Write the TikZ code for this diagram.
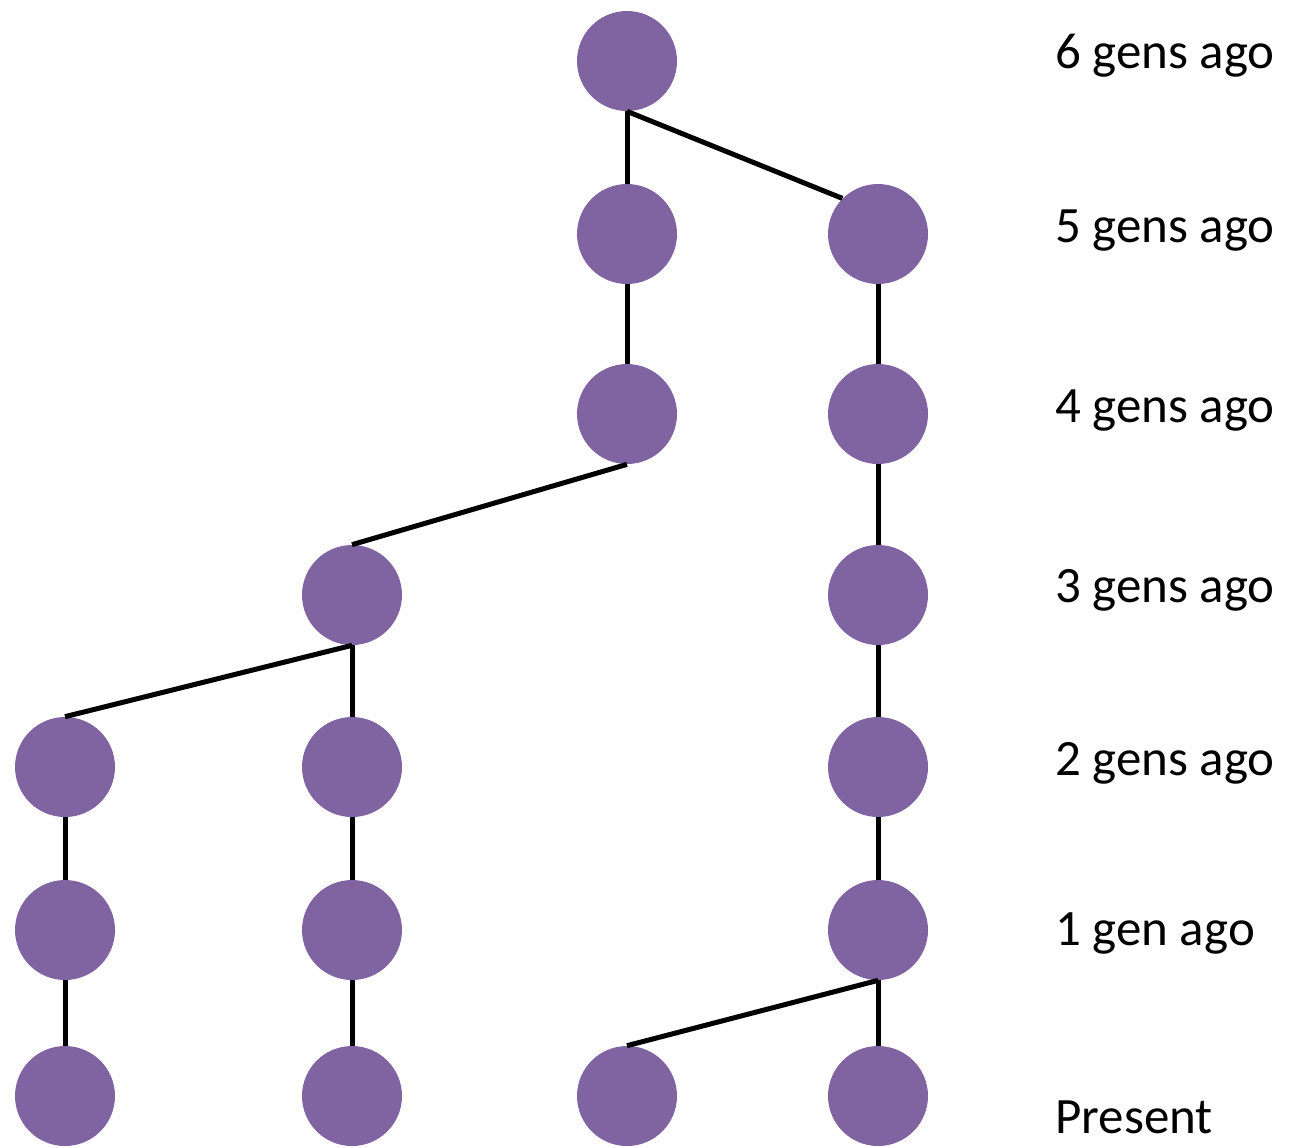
\documentclass[tikz,border=0pt]{standalone}
\usepackage{fontspec}
\setmainfont{Carlito}
\definecolor{lavender}{HTML}{8064A2}
\begin{document}
\begin{tikzpicture}[x=0.02cm, y=-0.02cm]
      \tikzset{indiv/.style={circle, inner sep=0pt, minimum size=2cm, fill=lavender}}
      \tikzset{gen/.style={anchor=base west, inner sep=0pt, font=\fontsize{29}{35}\selectfont}}
      \useasboundingbox (0,0) rectangle (1300,1147);
%% Individuals
      	\node[indiv] (g6) at (627,61) {};
      	\node[indiv] (g5a) at (627,234) {};
      	\node[indiv] (g5b) at (878,234) {};
      	\node[indiv] (g4a) at (627,414) {};
      	\node[indiv] (g4b) at (878,414) {};
      	\node[indiv] (g3a) at (352,595) {};
      	\node[indiv] (g3b) at (878,595) {};
      	\node[indiv] (g2a) at (65,767) {};
      	\node[indiv] (g2b) at (352,767) {};
      	\node[indiv] (g2c) at (878,767) {};
      	\node[indiv] (g1a) at (65,930) {};
      	\node[indiv] (g1b) at (352,930) {};
      	\node[indiv] (g1c) at (878,930) {};
      	\node[indiv] (g0a) at (65,1096) {};
      	\node[indiv] (g0b) at (352,1096) {};
      	\node[indiv] (g0c) at (627,1096) {};
      	\node[indiv] (g0d) at (878,1096) {};
%Generations
      	\node[gen] (l6) at (1055,68) {6 gens ago};
      	\node[gen] (l5) at (1055,242) {5 gens ago};
      	\node[gen] (l4) at (1055,422) {4 gens ago};
      	\node[gen] (l3) at (1055,602) {3 gens ago};
      	\node[gen] (l2) at (1055,775) {2 gens ago};
      	\node[gen] (l1) at (1055,945) {1 gen ago};
      	\node[gen] (l0) at (1055,1133) {Present};
%Lineages
		\path[line width=0.1cm] (g6.south) edge (g5a.north);
		\path[line width=0.1cm] (g6.south) edge (g5b.north west);
		\path[line width=0.1cm] (g5a.south) edge (g4a.north);
		\path[line width=0.1cm] (g5b.south) edge (g4b.north);
		\path[line width=0.1cm] (g4a.south) edge (g3a.north);
		\path[line width=0.1cm] (g4b.south) edge (g3b.north);
		\path[line width=0.1cm] (g3a.south) edge (g2a.north);
		\path[line width=0.1cm] (g3a.south) edge (g2b.north);
		\path[line width=0.1cm] (g3b.south) edge (g2c.north);
		\path[line width=0.1cm] (g2a.south) edge (g1a.north);
		\path[line width=0.1cm] (g2b.south) edge (g1b.north);
		\path[line width=0.1cm] (g2c.south) edge (g1c.north);
		\path[line width=0.1cm] (g1a.south) edge (g0a.north);
		\path[line width=0.1cm] (g1b.south) edge (g0b.north);
		\path[line width=0.1cm] (g1c.south) edge (g0c.north);
		\path[line width=0.1cm] (g1c.south) edge (g0d.north);
	\end{tikzpicture}
\end{document}
